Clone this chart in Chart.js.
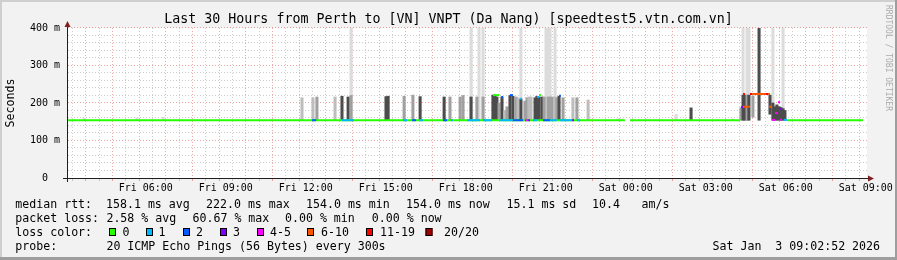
<!DOCTYPE html>
<html>
<head>
<meta charset="utf-8">
<script src="https://cdn.jsdelivr.net/npm/chart.js@4"></script>
<style>
  html, body { margin: 0; padding: 0; background: #f2f2f2; }
</style>
</head>
<body>
<canvas id="pingChart" width="897" height="260"></canvas>
<script>
// time axis: hours since Fri 00:00, graph covers Fri 03:02:52 .. Sat 09:02:52
const startHour = 3.048;
const endHour = 33.048;

// x labels every 3 hours
const xLabelHours = [6, 9, 12, 15, 18, 21, 24, 27, 30, 33];
const xLabelText = ["Fri 06:00", "Fri 09:00", "Fri 12:00", "Fri 15:00", "Fri 18:00",
  "Fri 21:00", "Sat 00:00", "Sat 03:00", "Sat 06:00", "Sat 09:00"];

// y labels (ms)
const yLabelValues = [0, 100, 200, 300, 400];
const yLabelText = ["0  ", "100 m", "200 m", "300 m", "400 m"];

// smoke bars (spread of the 20 pings), density 1 = sparse .. 4 = dense
const smokeTime = [
  3.69, 5.67, 6.65, 11.86, 12.27, 12.42, 13.10, 13.36, 13.59, 13.70,
  15.01, 15.09, 15.69, 16.02, 16.29, 17.19, 17.41, 17.79, 17.90, 18.20,
  18.42, 18.65, 19.02, 19.10, 19.17, 19.25, 19.36, 19.47, 19.55, 19.66,
  19.77, 19.89, 19.96, 20.07, 20.22, 20.30, 20.37, 20.45, 20.60, 20.67,
  20.75, 20.86, 20.94, 21.09, 21.16, 21.24, 21.35, 21.42, 21.50, 21.65,
  22.02, 22.17, 22.59, 23.71, 23.86, 25.89, 26.45, 28.02, 28.32, 28.40,
  28.47, 28.55, 28.62, 28.77, 29.00, 29.41, 29.52, 29.60, 29.67, 29.75,
  29.82, 29.90, 29.97
];
const smokeLow = [
  154, 154, 154, 154, 154, 154, 154, 154, 154, 154,
  154, 154, 154, 154, 154, 154, 154, 154, 154, 154,
  154, 154, 154, 154, 154, 154, 154, 154, 154, 154,
  154, 154, 154, 154, 154, 154, 154, 154, 154, 154,
  154, 154, 154, 154, 154, 154, 154, 154, 154, 154,
  154, 154, 154, 154, 154, 154, 154, 154, 154, 154,
  154, 154, 154, 162, 154, 170, 154, 154, 154, 154,
  154, 154, 154
];
const smokeHigh = [
  160, 160, 162, 214, 214, 216, 216, 218, 216, 220,
  217, 218, 218, 221, 217, 216, 216, 216, 220, 216,
  216, 216, 221, 221, 216, 200, 216, 180, 190, 220,
  218, 216, 214, 210, 205, 214, 216, 216, 214, 218,
  216, 216, 216, 216, 216, 216, 216, 214, 218, 214,
  214, 214, 208, 158, 158, 170, 187, 158, 187, 221,
  221, 221, 221, 219, 420, 221, 200, 190, 195, 190,
  188, 185, 180
];
const smokeDensity = [
  1, 1, 1, 2, 2, 3, 2, 4, 4, 3,
  4, 4, 3, 3, 4, 4, 3, 3, 3, 4,
  3, 3, 4, 4, 4, 3, 4, 2, 3, 4,
  4, 3, 2, 4, 3, 3, 2, 2, 4, 4,
  4, 4, 3, 3, 3, 3, 2, 3, 4, 3,
  2, 3, 2, 1, 1, 1, 4, 1, 3, 4,
  4, 3, 4, 3, 4, 4, 4, 4, 4, 4,
  4, 4, 4
];

// single slow pings that reach past the top of the graph
const spikeTime = [13.70, 18.20, 18.50, 18.65, 20.07, 21.01, 21.09, 21.16, 21.35,
  28.40, 28.55, 28.62, 29.52, 29.90];
const spikeLow = 154;
const spikeHigh = 420;

// median rtt pieces: start, end (hours), value (ms), lost pings out of 20
const medStart = [3.05, 24.16, 30.05, 12.24, 13.36, 15.65, 15.99, 16.29, 17.15, 17.45,
  18.05, 18.65, 19.29, 19.77, 20.22, 20.34, 20.52, 20.90, 21.16, 21.54,
  21.99, 22.17, 19.02, 19.33, 19.66, 20.04, 20.67, 20.75, 21.50, 28.32,
  28.40, 28.40, 28.66, 28.74, 29.26, 29.34, 29.38, 29.49, 29.60, 29.71,
  29.79, 29.79, 29.93];
const medEnd = [23.97, 28.29, 32.90, 12.39, 13.81, 15.80, 16.14, 16.40, 17.30, 17.52,
  18.54, 18.99, 19.77, 20.15, 20.34, 20.41, 20.67, 21.16, 21.42, 21.99,
  22.06, 22.29, 19.25, 19.40, 19.77, 20.11, 20.75, 20.82, 21.57, 28.40,
  28.66, 28.47, 28.74, 29.26, 29.34, 29.41, 29.49, 29.60, 29.71, 29.79,
  29.86, 29.86, 30.05];
const medValue = [154, 154, 154, 154, 154, 154, 154, 154, 154, 154,
  154, 154, 154, 154, 154, 154, 154, 154, 154, 154,
  154, 154, 221, 216, 221, 211, 216, 221, 219, 189,
  190, 224, 224, 224, 224, 224, 190, 155, 173, 202,
  184, 155, 155];
const medLoss = [0, 0, 0, 2, 1, 1, 2, 1, 2, 1,
  1, 1, 1, 2, 5, 3, 1, 2, 1, 1,
  3, 1, 0, 2, 2, 1, 1, 0, 2, 3,
  8, 12, 12, 8, 12, 8, 8, 5, 5, 5,
  3, 5, 1];

// loss colour classes
const lossLimits = [0, 1, 2, 3, 5, 10, 19, 20];
const lossLabels = ["0", "1", "2", "3", "4-5", "6-10", "11-19", "20/20"];
const lossColors = ["#26ff00", "#00b8ff", "#0059ff", "#7e00ff", "#ff00ff", "#ff5500", "#ff0000", "#a00000"];

// legend texts
const titleText = "Last 30 Hours from Perth to [VN] VNPT (Da Nang) [speedtest5.vtn.com.vn]";
const rttStats = ["158.1 ms avg", "222.0 ms max", "154.0 ms min", "154.0 ms now", "15.1 ms sd", "10.4", "am/s"];
const lossStats = ["2.58 % avg", "60.67 % max", "0.00 % min", "0.00 % now"];
const probeText = "20 ICMP Echo Pings (56 Bytes) every 300s";
const stampText = "Sat Jan  3 09:02:52 2026";

const smokeGreys = ["#dcdcdc", "#bdbdbd", "#a0a0a0", "#4c4c4c"];
const mono = "'DejaVu Sans Mono', monospace";
const minorGrid = "rgba(143,143,143,0.45)";
const majorGrid = "rgba(222,79,79,0.5)";

function lossColor(n) {
  for (let i = 0; i < lossLimits.length; i++) {
    if (n <= lossLimits[i]) return lossColors[i];
  }
  return lossColors[lossColors.length - 1];
}

// grid positions
const xTickHours = [];
for (let h = 3.5; h <= 33; h += 0.5) xTickHours.push(h);
const yTickValues = [];
for (let v = 0; v <= 400; v += 20) yTickValues.push(v);

const smokeData = smokeTime.map((t, i) => ({ x: t, y: [smokeLow[i], smokeHigh[i]] }));
const spikeData = spikeTime.map(t => ({ x: t, y: [spikeLow, spikeHigh] }));

// each median piece is a short flat line, separated by a gap
const medianData = [];
const medianLossAt = [];
medStart.forEach((s, i) => {
  medianData.push({ x: s, y: medValue[i] }, { x: medEnd[i], y: medValue[i] }, { x: medEnd[i], y: null });
  medianLossAt.push(medLoss[i], medLoss[i], medLoss[i]);
});

// background, axis arrows, legend block, watermark and frame
const decorPlugin = {
  id: "decor",
  beforeDraw(chart) {
    const { ctx, chartArea: a } = chart;
    ctx.save();
    ctx.fillStyle = "#f2f2f2";
    ctx.fillRect(0, 0, chart.width, chart.height);
    ctx.fillStyle = "#ffffff";
    ctx.fillRect(a.left, a.top, a.right - a.left, a.bottom - a.top);
    ctx.restore();
  },
  afterDraw(chart) {
    const { ctx, chartArea: a } = chart;
    const W = chart.width, H = chart.height;
    const ay = Math.round(a.bottom) + 0.5;
    const ax = Math.round(a.left) + 0.5;
    ctx.save();

    // axis extensions
    ctx.strokeStyle = "#1f1f1f";
    ctx.lineWidth = 1;
    ctx.beginPath();
    ctx.moveTo(a.left - 4, ay); ctx.lineTo(a.right + 2, ay);
    ctx.moveTo(ax, a.bottom + 4); ctx.lineTo(ax, a.top - 2);
    ctx.stroke();

    // arrows
    ctx.fillStyle = "#801f1f";
    ctx.beginPath();
    ctx.moveTo(a.right + 1, ay - 3); ctx.lineTo(a.right + 7, ay); ctx.lineTo(a.right + 1, ay + 3);
    ctx.closePath(); ctx.fill();
    ctx.beginPath();
    ctx.moveTo(ax - 3, a.top - 1); ctx.lineTo(ax, a.top - 7); ctx.lineTo(ax + 3, a.top - 1);
    ctx.closePath(); ctx.fill();

    // legend block
    ctx.font = "11.6px " + mono;
    ctx.fillStyle = "#000";
    ctx.textAlign = "left";
    ctx.textBaseline = "alphabetic";
    ctx.fillText("median rtt:", 15.3, 208);
    [106, 206, 306, 406, 506.5, 592, 641.5].forEach((x, i) => ctx.fillText(rttStats[i], x, 208));
    ctx.fillText("packet loss:", 15.3, 222);
    [106.4, 192.5, 285, 371.8].forEach((x, i) => ctx.fillText(lossStats[i], x, 222));
    ctx.fillText("loss color:", 15.3, 236);
    const boxX = [109, 146, 183, 220, 257, 307, 366, 425.5];
    const labX = [122.5, 158.5, 196, 233, 270, 321, 380, 444];
    lossLabels.forEach((lab, i) => {
      ctx.fillStyle = lossColors[i];
      ctx.fillRect(boxX[i], 228, 7, 8);
      ctx.strokeStyle = "#000";
      ctx.strokeRect(boxX[i] + 0.5, 228.5, 6, 7);
      ctx.fillStyle = "#000";
      ctx.fillText(lab, labX[i], 236);
    });
    ctx.fillText("probe:", 15.3, 250);
    ctx.fillText(probeText, 106.4, 250);
    ctx.fillText(stampText, 712.5, 250);

    // watermark
    ctx.save();
    ctx.translate(888.5, 58);
    ctx.rotate(Math.PI / 2);
    ctx.font = "8px " + mono;
    ctx.fillStyle = "#ababab";
    ctx.textAlign = "center";
    ctx.textBaseline = "middle";
    ctx.fillText("RRDTOOL / TOBI OETIKER", 0, 0);
    ctx.restore();

    // 3d frame
    ctx.fillStyle = "#cfcfcf";
    ctx.fillRect(0, 0, W, 2);
    ctx.fillRect(0, 0, 2, H);
    ctx.fillStyle = "#9e9e9e";
    ctx.fillRect(0, H - 3, W, 3);
    ctx.fillRect(W - 2, 0, 2, H);
    ctx.restore();
  }
};

const ctx = document.getElementById("pingChart").getContext("2d");

const config = {
  type: "line",
  data: {
    datasets: [
      // median rtt coloured by packet loss
      {
        type: "line",
        label: "median rtt",
        data: medianData,
        order: 0,
        borderWidth: 2,
        borderColor: lossColors[0],
        borderCapStyle: "butt",
        pointRadius: 0,
        tension: 0,
        spanGaps: false,
        segment: {
          borderColor: c => lossColor(medianLossAt[c.p0DataIndex])
        }
      },
      // smoke
      {
        type: "bar",
        label: "smoke",
        data: smokeData,
        order: 1,
        grouped: false,
        barThickness: 2.4,
        borderWidth: 0,
        backgroundColor: c => c.dataIndex === undefined ? smokeGreys[2] : smokeGreys[smokeDensity[c.dataIndex] - 1]
      },
      // faint spikes to the top
      {
        type: "bar",
        label: "spikes",
        data: spikeData,
        order: 2,
        grouped: false,
        barThickness: 2.4,
        borderWidth: 0,
        backgroundColor: "#dcdcdc"
      }
    ]
  },
  options: {
    responsive: false,
    animation: false,
    devicePixelRatio: 1,
    events: [],
    layout: { padding: 0 },
    plugins: {
      legend: { display: false },
      tooltip: { enabled: false },
      title: {
        display: true,
        text: titleText,
        color: "#000",
        font: { family: mono, size: 13.3, weight: "normal", lineHeight: 1.2 },
        padding: { top: 11.4, bottom: 0.6 }
      }
    },
    scales: {
      x: {
        type: "linear",
        min: startHour,
        max: endHour,
        offset: false,
        afterBuildTicks: s => { s.ticks = xTickHours.map(v => ({ value: v })); },
        afterFit: s => { s.height = 82; },
        grid: {
          color: c => (c.tick && c.tick.value % 1 === 0) ? majorGrid : minorGrid,
          lineWidth: 1,
          drawTicks: true,
          tickLength: 3
        },
        border: { display: true, color: "#1f1f1f", width: 1, dash: [1, 2] },
        ticks: {
          autoSkip: false,
          maxRotation: 0,
          minRotation: 0,
          padding: 1,
          color: "#000",
          font: { family: mono, size: 10 },
          callback: v => {
            const i = xLabelHours.indexOf(v);
            return i < 0 ? "" : xLabelText[i];
          }
        }
      },
      y: {
        type: "linear",
        min: 0,
        max: 400,
        afterBuildTicks: s => { s.ticks = yTickValues.map(v => ({ value: v })); },
        afterFit: s => { s.width = 67; },
        grid: {
          color: c => (c.tick && c.tick.value % 100 === 0) ? majorGrid : minorGrid,
          lineWidth: 1,
          drawTicks: false
        },
        border: { display: true, color: "#1f1f1f", width: 1, dash: [1, 2] },
        ticks: {
          autoSkip: false,
          padding: 7,
          color: "#000",
          font: { family: mono, size: 10 },
          callback: v => {
            const i = yLabelValues.indexOf(v);
            return i < 0 ? "" : yLabelText[i];
          }
        },
        title: {
          display: true,
          text: "Seconds",
          color: "#000",
          font: { family: mono, size: 11.6, lineHeight: 1.2 },
          padding: { top: 4, bottom: 0 }
        }
      },
      // empty right-hand strip that keeps room for the watermark
      yRight: {
        type: "linear",
        position: "right",
        display: true,
        min: 0,
        max: 1,
        grid: { display: false },
        border: { display: false },
        ticks: { display: false },
        afterFit: s => { s.width = 30; }
      }
    }
  },
  plugins: [decorPlugin]
};

const pingChart = new Chart(ctx, config);
</script>
</body>
</html>
